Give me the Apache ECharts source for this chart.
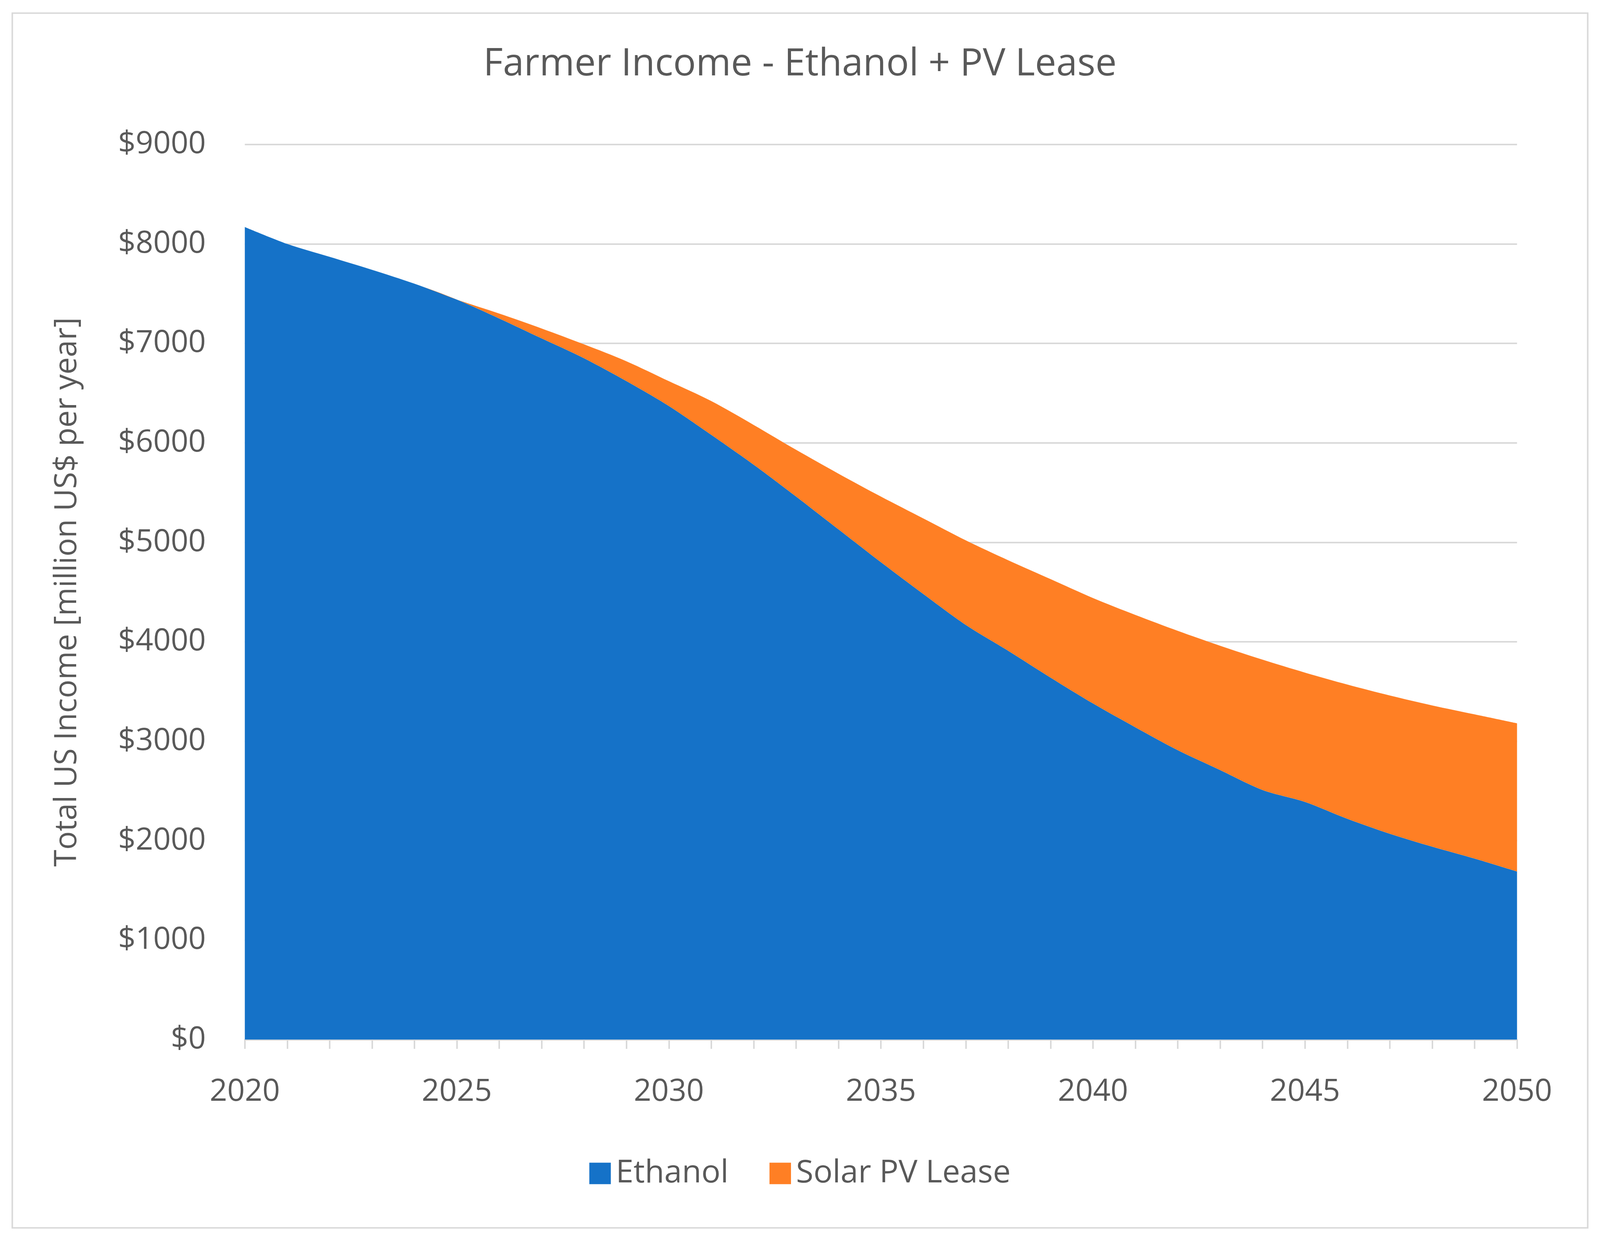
<!DOCTYPE html><html><head><meta charset="utf-8">
<script src="https://cdn.jsdelivr.net/npm/echarts@6/dist/echarts.min.js"></script>
<style>html,body{margin:0;background:#fff;overflow:hidden}#c{width:100vw;height:100vh}</style></head><body>
<div id="c"></div>
<script>
const years=[];for(let y=2020;y<=2050;y++)years.push(String(y));
const ethanol=[8170,8000,7870,7740,7600,7440,7250,7050,6850,6620,6370,6080,5780,5460,5130,4800,4480,4170,3910,3640,3380,3140,2910,2710,2510,2390,2220,2070,1940,1820,1690];
const totalTop=[8170,8000,7870,7740,7600,7440,7300,7150,6990,6820,6620,6420,6180,5930,5690,5460,5240,5020,4820,4630,4440,4270,4110,3960,3820,3690,3570,3460,3360,3270,3180];
const solar=totalTop.map((t,i)=>Math.max(0,t-ethanol[i]));
const el=document.getElementById('c');
const W=el.clientWidth,H=el.clientHeight;
const sx=W/1562,sy=H/1134,s=Math.min(sx,sy);
const chart=echarts.init(el);
const font='"Open Sans", "Noto Sans", sans-serif';
chart.setOption({
 backgroundColor:'#fff',
 graphic:[{type:'rect',shape:{x:12*sx,y:12*sy,width:1538*sx,height:1110*sy},style:{fill:'none',stroke:'#d9d9d9',lineWidth:1.5*s}}],
 title:{text:'Farmer Income - Ethanol + PV Lease',left:'center',top:40*sy,textStyle:{fontFamily:font,fontSize:37*s,fontWeight:'normal',color:'#595959'}},
 legend:{top:1056*sy,itemWidth:21*s,itemHeight:21*s,itemGap:40*s,textStyle:{fontFamily:font,fontSize:31*s,color:'#595959',padding:[0,0,0,3*s]},data:['Ethanol','Solar PV Lease'],icon:'rect'},
 grid:{left:239*sx,right:(1562-1481)*sx,top:132*sy,bottom:(1134-950)*sy},
 xAxis:{type:'category',data:years,boundaryGap:false,
  axisLine:{lineStyle:{color:'#d9d9d9',width:1.5*s}},
  axisTick:{interval:0,length:9*s,lineStyle:{color:'#d9d9d9',width:1.5*s}},
  axisLabel:{interval:4,margin:36*s,fontFamily:font,fontSize:30*s,color:'#595959'}},
 yAxis:{type:'value',min:0,max:9000,interval:1000,
  name:'Total US Income [million US$ per year]',nameLocation:'middle',nameGap:158*s,nameRotate:90,
  nameTextStyle:{fontFamily:font,fontSize:30*s,color:'#595959'},
  axisLabel:{formatter:v=>'$'+v,margin:38*s,fontFamily:font,fontSize:30*s,color:'#595959'},
  splitLine:{lineStyle:{color:'#d9d9d9',width:1.5*s}},axisLine:{show:false},axisTick:{show:false}},
 series:[
  {name:'Ethanol',type:'line',stack:'a',data:ethanol,smooth:0.3,symbol:'none',lineStyle:{width:0},areaStyle:{color:'#1572C8',opacity:1},itemStyle:{color:'#1572C8'}},
  {name:'Solar PV Lease',type:'line',stack:'a',data:solar,smooth:0.3,symbol:'none',lineStyle:{width:0},areaStyle:{color:'#FF7F24',opacity:1},itemStyle:{color:'#FF7F24'}}
 ]
});
</script></body></html>
